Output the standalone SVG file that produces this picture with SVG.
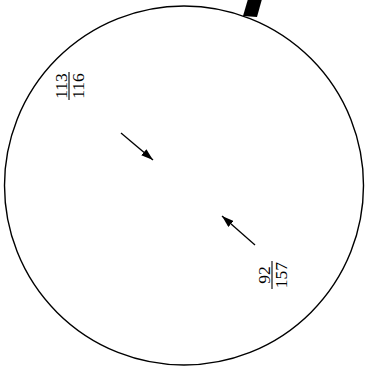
<svg xmlns="http://www.w3.org/2000/svg" width="366" height="371" viewBox="0 0 366 371">
<defs>
<style>
.frac{font-family:"Liberation Serif","Times New Roman",serif;font-size:17.5px;fill:#000;text-anchor:middle}
.bar{stroke:#000;stroke-width:1.1}
.arrow{stroke:#000;stroke-width:1.3;fill:none}
</style>
<marker id="ah" viewBox="0 0 12 8" refX="12" refY="4" markerWidth="12" markerHeight="8" markerUnits="userSpaceOnUse" orient="auto">
<path d="M0,0 L12,4 L0,8 Z" fill="#000"/>
</marker>
</defs>
<g id="circle">
<circle cx="184" cy="185.5" r="179.5" fill="none" stroke="#000" stroke-width="1.4"/>
<polygon points="243,16 257,17 262,-1 248,-1" fill="#000"/>
</g>
<g id="label-113-116" transform="translate(69,86) rotate(-90)">
<text class="frac" x="0" y="-2.5">113</text>
<line class="bar" x1="-14" y1="0" x2="14" y2="0"/>
<text class="frac" x="0" y="14.5">116</text>
</g>
<g id="label-92-157" transform="translate(272,275) rotate(-90)">
<text class="frac" x="0" y="-2.5">92</text>
<line class="bar" x1="-14" y1="0" x2="14" y2="0"/>
<text class="frac" x="0" y="14.5">157</text>
</g>
<g id="connectors">
<line class="arrow" x1="121" y1="133" x2="153" y2="160" marker-end="url(#ah)"/>
<line class="arrow" x1="255" y1="245" x2="222" y2="216" marker-end="url(#ah)"/>
</g>
</svg>
